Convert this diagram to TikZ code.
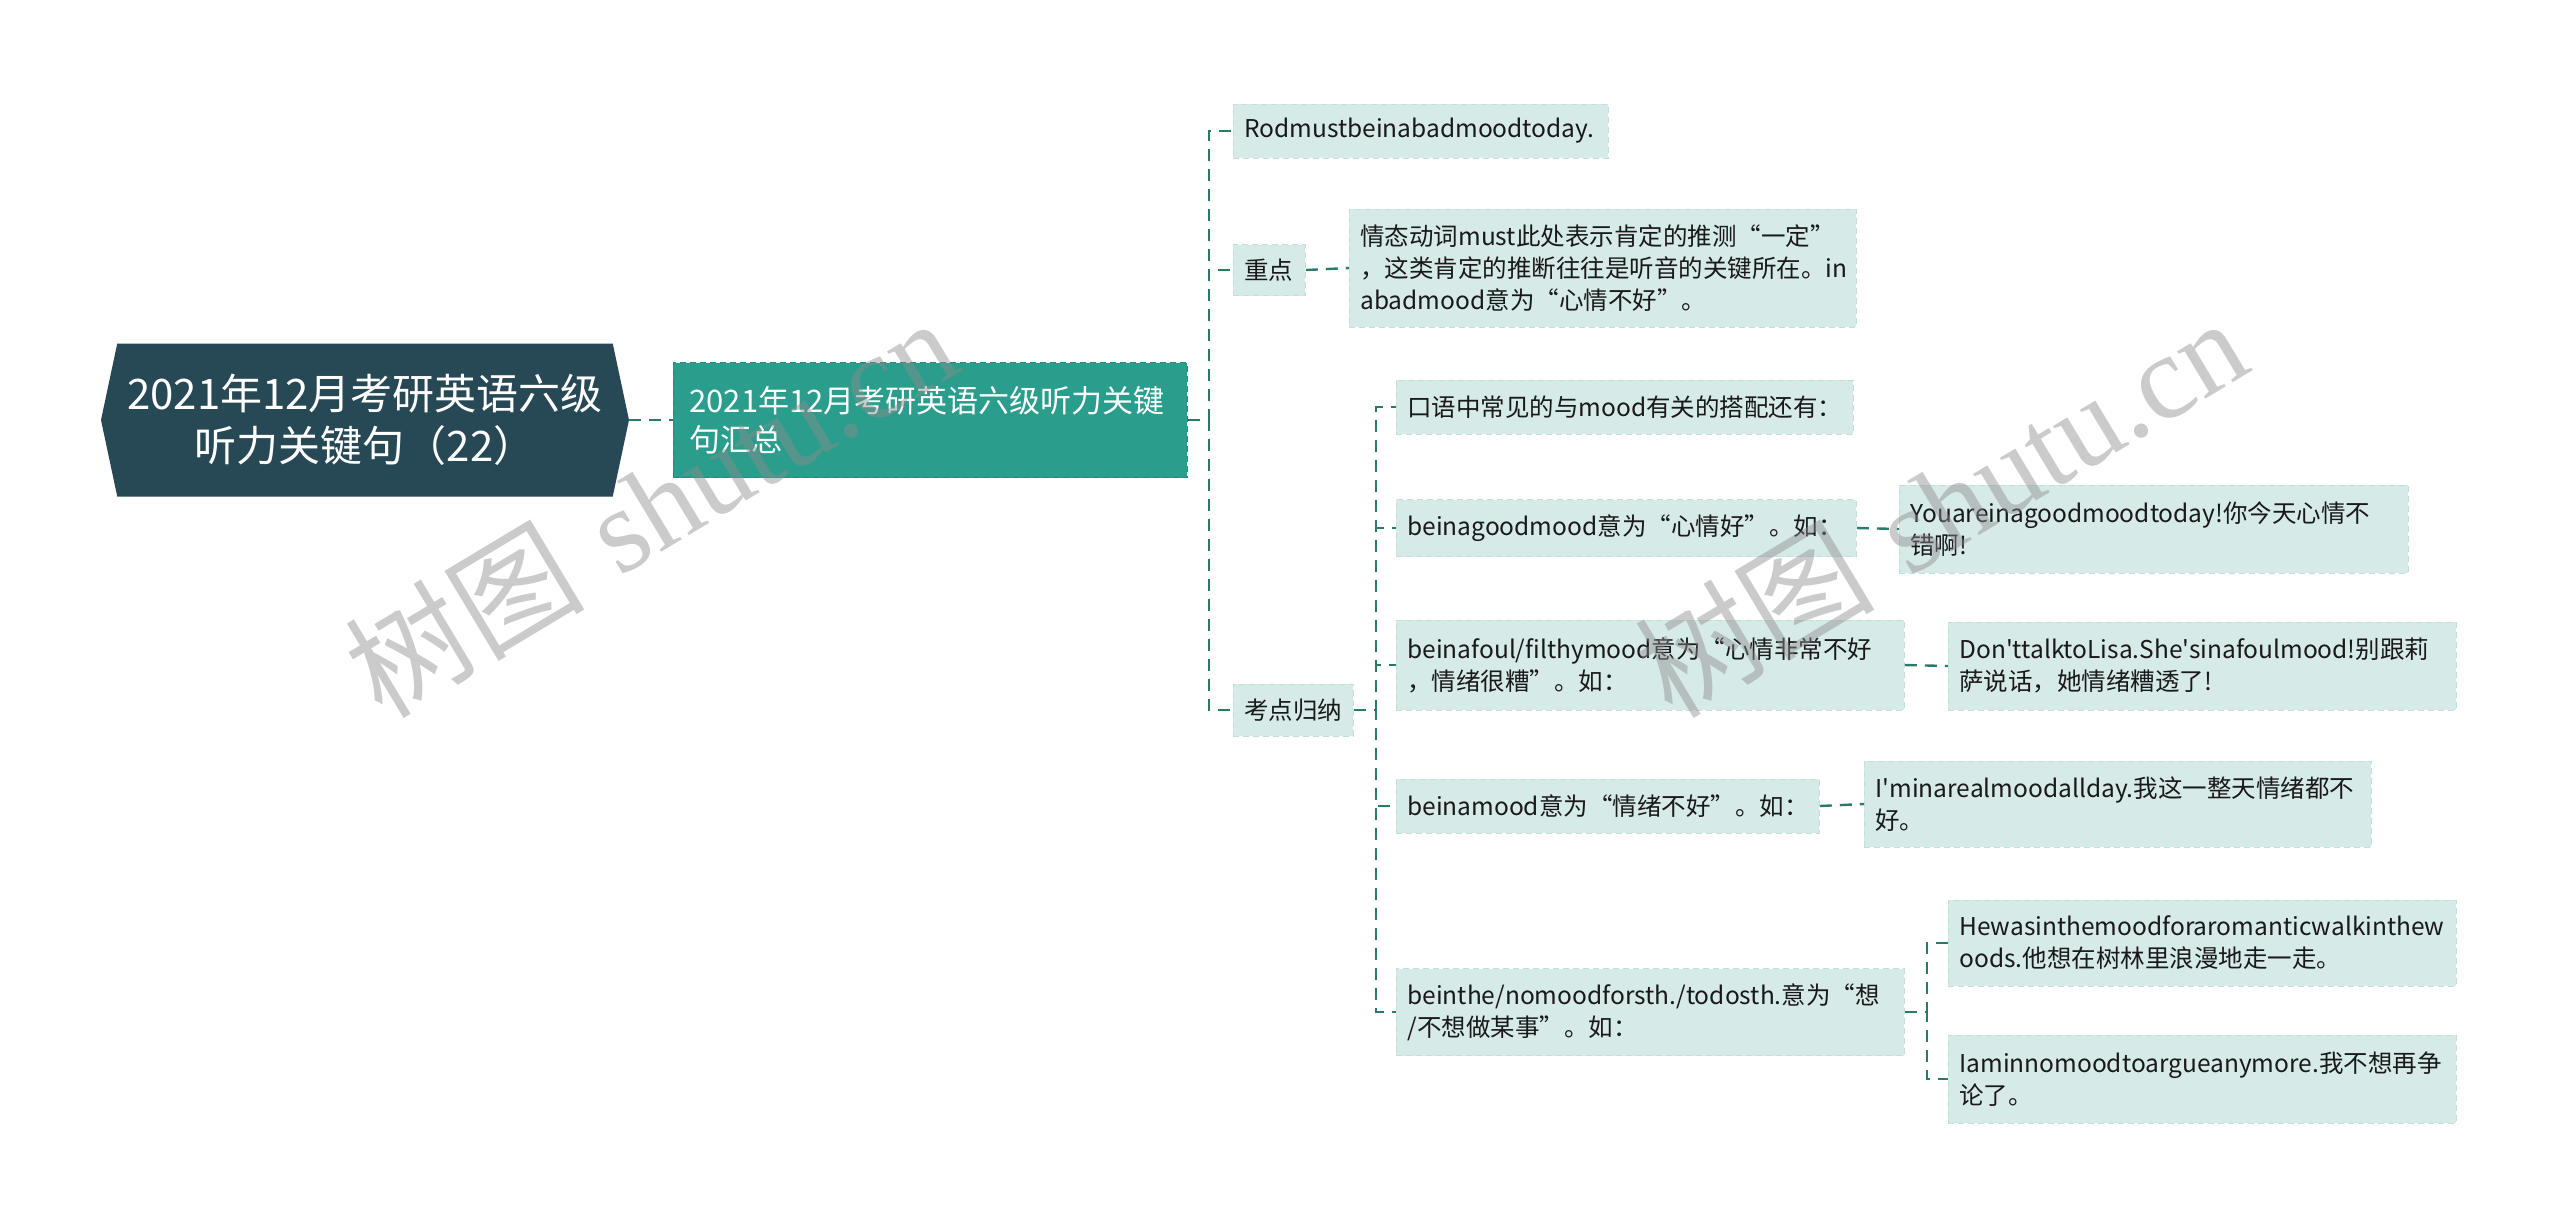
\documentclass[tikz,border=0pt]{standalone}
\usepackage{fontspec}
\usepackage{tikz}
\usetikzlibrary{shapes.symbols}
\newfontfamily\cjk{Noto Sans CJK SC}
\newfontfamily\wmserif{Liberation Serif}
\definecolor{rootcol}{RGB}{39,72,85}
\definecolor{sumcol}{RGB}{43,157,141}
\definecolor{sumline}{RGB}{36,136,122}
\definecolor{leafcol}{RGB}{214,234,232}
\definecolor{leafline}{RGB}{196,222,220}
\definecolor{linkcol}{RGB}{42,122,108}
\tikzset{
  link/.style={draw=linkcol, line width=1.2pt, dash pattern=on 6pt off 4pt},
  rootbox/.style={signal, signal to=west and east, signal pointer angle=156,
    fill=rootcol, text=white, minimum width=264pt, minimum height=76.5pt,
    align=center, font=\cjk\fontsize{21}{26}\selectfont},
  sumbox/.style={fill=sumcol, draw=sumline, dash pattern=on 3pt off 2pt,
    text=white, anchor=west, inner xsep=8pt, align=left,
    font=\cjk\fontsize{15.5}{19.5}\selectfont},
  leaf/.style={fill=leafcol, draw=leafline, dash pattern=on 3pt off 2pt,
    text=black!90, anchor=west, inner xsep=5.5pt, align=left,
    font=\cjk\fontsize{12.25}{16}\selectfont},
  stamp/.style={text=black!45, opacity=0.45, rotate=31,
    font=\fontsize{60}{60}\selectfont}
}
\begin{document}
\begin{tikzpicture}[x=0.5pt, y=-0.5pt]
\fill[white] (0,0) rectangle (2560,1228);
\useasboundingbox (0,0) rectangle (2560,1228);

\node[rootbox] (root) at (365,420) {2021年12月考研英语六级\\听力关键句（22）};
\node[sumbox, text width=241pt, minimum height=57.5pt] (sum) at (673,420)
  {2021年12月考研英语六级听力关键\\句汇总};

\node[leaf, text width=176.5pt, minimum height=27pt] (rod) at (1233,131) {Rodmustbeinabadmoodtoday.};
\node[leaf, text width=25pt, minimum height=25.5pt] (key) at (1233,270) {重点};
\node[leaf, text width=242.5pt, minimum height=59pt] (note) at (1349,268)
  {情态动词must此处表示肯定的推测“一定”\\，这类肯定的推断往往是听音的关键所在。in\\abadmood意为“心情不好”。};
\node[leaf, text width=49pt, minimum height=26pt] (sumup) at (1233,710) {考点归纳};

\node[leaf, text width=217.5pt, minimum height=27pt] (c1) at (1396,407) {口语中常见的与mood有关的搭配还有：};
\node[leaf, text width=219pt, minimum height=28.5pt] (c2) at (1396,528) {beinagoodmood意为“心情好”。如：};
\node[leaf, text width=243pt, minimum height=45pt] (c3) at (1396,665)
  {beinafoul/filthymood意为“心情非常不好\\，情绪很糟”。如：};
\node[leaf, text width=200.5pt, minimum height=27pt] (c4) at (1396,806) {beinamood意为“情绪不好”。如：};
\node[leaf, text width=243pt, minimum height=43.5pt] (c5) at (1396,1012)
  {beinthe/nomoodforsth./todosth.意为“想\\/不想做某事”。如：};

\node[leaf, text width=243.5pt, minimum height=44pt] (g2) at (1899,529)
  {Youareinagoodmoodtoday!你今天心情不\\错啊!};
\node[leaf, text width=243pt, minimum height=44pt] (g3) at (1948,666)
  {Don'ttalktoLisa.She'sinafoulmood!别跟莉\\萨说话，她情绪糟透了!};
\node[leaf, text width=242.5pt, minimum height=43pt] (g4) at (1864,804)
  {I'minarealmoodallday.我这一整天情绪都不\\好。};
\node[leaf, text width=243pt, minimum height=43pt] (g5a) at (1948,943)
  {Hewasinthemoodforaromanticwalkinthew\\oods.他想在树林里浪漫地走一走。};
\node[leaf, text width=243pt, minimum height=44pt] (g5b) at (1948,1079)
  {Iaminnomoodtoargueanymore.我不想再争\\论了。};

\draw[link] (root.east) -- (sum.west);
\draw[link] (sum.east) -- ++(21,0) |- (rod.west);
\draw[link] (sum.east) -- ++(21,0) |- (key.west);
\draw[link] (sum.east) -- ++(21,0) |- (sumup.west);
\draw[link] (key.east) -- (note.west);
\draw[link] (sumup.east) -- ++(22,0) |- (c1.west);
\draw[link] (sumup.east) -- ++(22,0) |- (c2.west);
\draw[link] (sumup.east) -- ++(22,0) |- (c3.west);
\draw[link] (sumup.east) -- ++(22,0) |- (c4.west);
\draw[link] (sumup.east) -- ++(22,0) |- (c5.west);
\draw[link] (c2.east) -- (g2.west);
\draw[link] (c3.east) -- (g3.west);
\draw[link] (c4.east) -- (g4.west);
\draw[link] (c5.east) -- ++(22,0) |- (g5a.west);
\draw[link] (c5.east) -- ++(22,0) |- (g5b.west);

\node[stamp] (wm1) at (650,506) {{\cjk 树图} {\wmserif shutu.cn}};
\node[stamp] (wm2) at (1940,506) {{\cjk 树图} {\wmserif shutu.cn}};
\end{tikzpicture}
\end{document}
